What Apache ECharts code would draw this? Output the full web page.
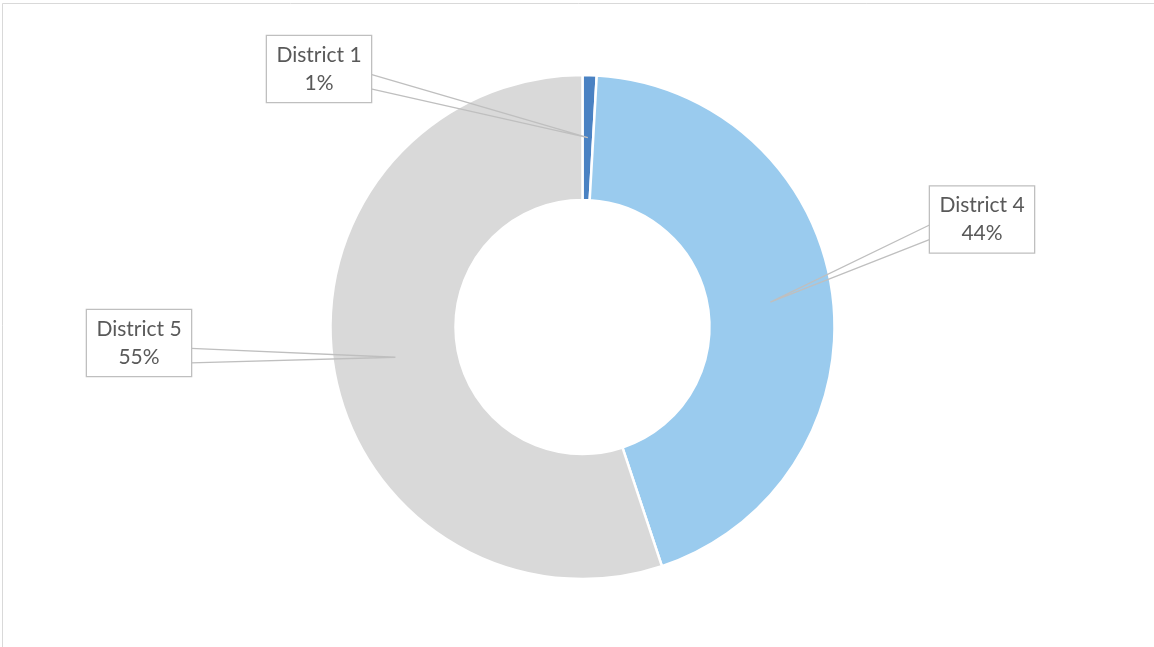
<!DOCTYPE html>
<html>
<head>
<meta charset="utf-8">
<script src="https://cdn.jsdelivr.net/npm/echarts@6/dist/echarts.min.js"></script>
<style>
	html, body { margin: 0; padding: 0; background: #fff; }
	#chart { width: 1154px; height: 647px; }
</style>
</head>
<body>
<div id="chart"></div>
<script>
// data
const districts = ["District 1", "District 4", "District 5"];
const shares = [0.9, 44.0, 55.1];
const sliceColors = ["#4a82c3", "#9acbee", "#d9d9d9"];

// where each callout box sits (centre, px)
const calloutPos = [[319, 69], [982, 219.5], [139, 343]];

const CX = 582.5, CY = 327, R_IN = 127, R_OUT = 252;
const BOX_W = 104, BOX_H = 66;

const total = shares.reduce((a, b) => a + b, 0);

// tip of the callout pointer: middle of the ring at the slice's mid angle
function tipOf(idx) {
	let before = 0;
	for (let i = 0; i < idx; i++) before += shares[i];
	const a = (before + shares[idx] / 2) / total * Math.PI * 2;
	const r = (R_IN + R_OUT) / 2;
	return [CX + r * Math.sin(a), CY - r * Math.cos(a)];
}

const base = {
	type: "pie",
	center: [CX, CY],
	radius: [R_IN, R_OUT],
	startAngle: 90,
	clockwise: true,
	avoidLabelOverlap: false,
	silent: true,
	emphasis: { disabled: true }
};

const chart = echarts.init(document.getElementById("chart"), null, { renderer: "canvas" });

chart.setOption({
	animation: false,
	backgroundColor: "#fff",
	graphic: [{
		type: "rect",
		silent: true,
		shape: { x: 2.5, y: 3.5, width: 2000, height: 2000 },
		style: { fill: "none", stroke: "#d9d9d9", lineWidth: 1 }
	}],
	series: [
		// the ring itself
		{
			...base,
			z: 2,
			itemStyle: { borderColor: "#fff", borderWidth: 2.5 },
			label: { show: false },
			labelLine: { show: false },
			data: districts.map((name, i) => ({
				name,
				value: shares[i],
				itemStyle: { color: sliceColors[i] }
			}))
		},
		// invisible copy on top that carries the callouts, so the pointers sit over the ring
		{
			...base,
			z: 5,
			itemStyle: { color: "rgba(0,0,0,0)", borderWidth: 0 },
			label: {
				show: true,
				formatter: p => `${p.name}\n${Math.round(p.value / total * 100)}%`,
				fontFamily: "Lato, 'Open Sans', sans-serif",
				fontSize: 21,
				lineHeight: 28,
				color: "#595959",
				width: BOX_W - 20,
				overflow: "none",
				align: "center",
				padding: [7, 10, 3, 10],
				backgroundColor: "#fff",
				borderColor: "#bfbfbf",
				borderWidth: 1.3
			},
			labelLine: {
				show: true,
				showAbove: true,
				length: 10,
				length2: 10,
				lineStyle: { color: "#bfbfbf", width: 1.3 }
			},
			labelLayout: params => {
				const i = params.dataIndex;
				const [lx, ly] = calloutPos[i];
				const tip = tipOf(i);
				const edgeX = tip[0] > lx ? lx + BOX_W / 2 : lx - BOX_W / 2;
				const top = ly - BOX_H / 2;
				return {
					x: lx,
					y: ly,
					align: "center",
					verticalAlign: "middle",
					labelLinePoints: [
						[edgeX, top + BOX_H * 0.58],
						tip,
						[edgeX, top + BOX_H * 0.8]
					]
				};
			},
			data: districts.map((name, i) => ({ name, value: shares[i] }))
		}
	]
});
</script>
</body>
</html>
